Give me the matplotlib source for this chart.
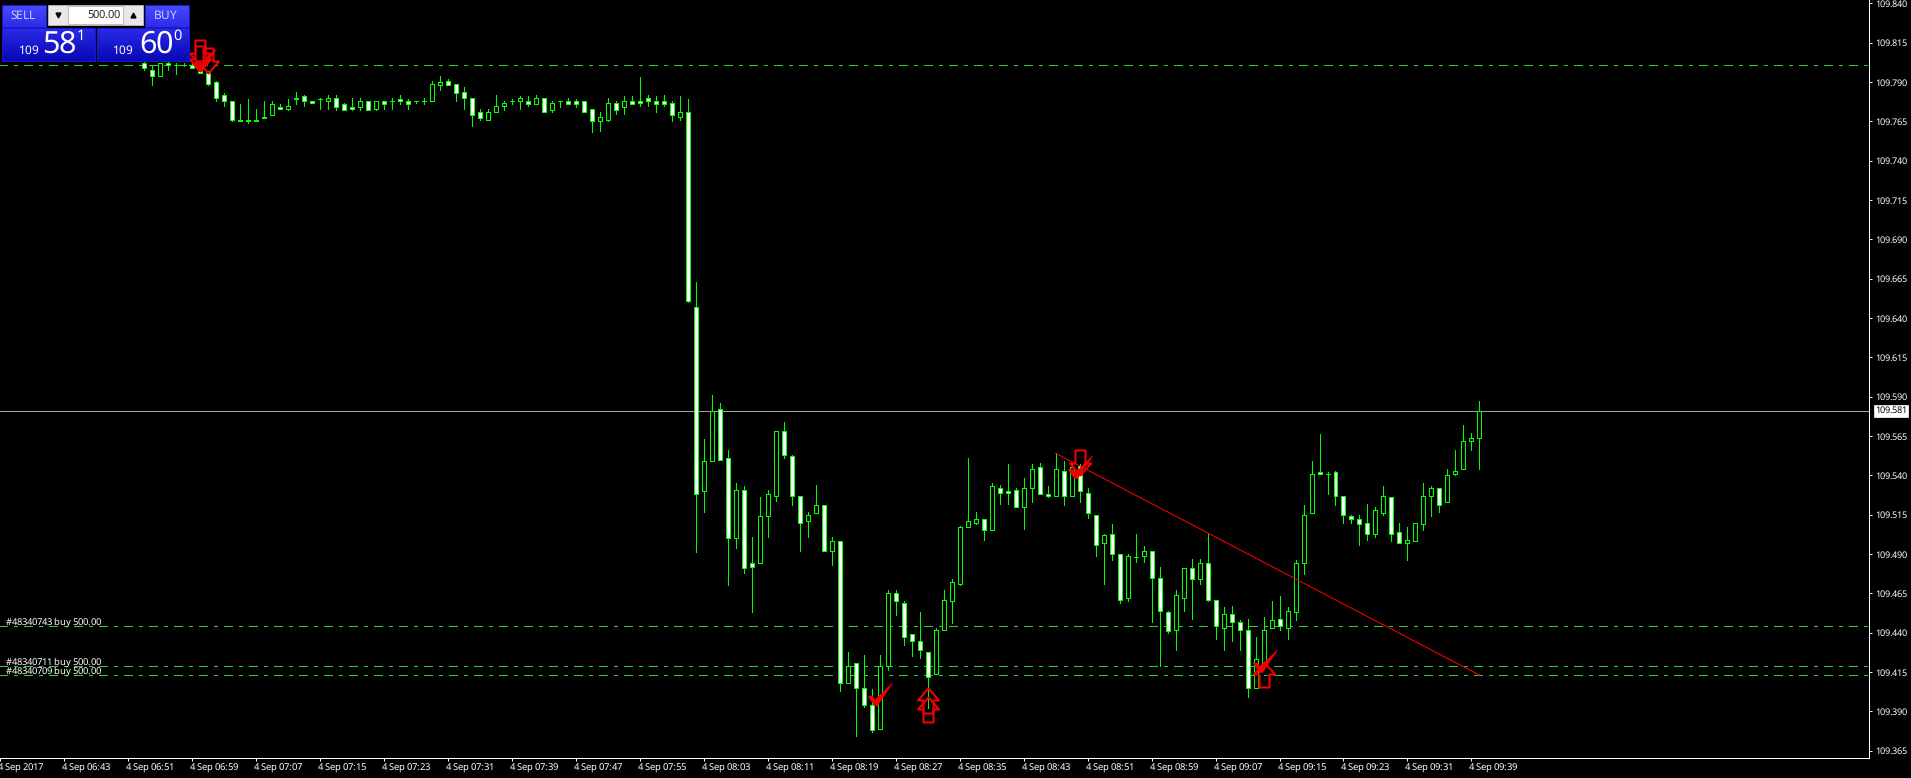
"""
USDJPY M1 chart with order lines, redrawn from a trading terminal screenshot
"""
import numpy as np
import matplotlib
matplotlib.use("Agg")
import matplotlib.pyplot as plt
from matplotlib.path import Path
from matplotlib.patches import Rectangle
from matplotlib.transforms import ScaledTranslation

plt.rcParams["font.family"] = ["Noto Sans", "DejaVu Sans"]
plt.rcParams["lines.scale_dashes"] = False
plt.rcParams["text.hinting"] = "native"
plt.rcParams["text.hinting_factor"] = 1

# candles, one per minute, first one at minute 10 after the 06:43 tick
first_candle = 10
opens = [
    109.802, 109.798, 109.794, 109.802, 109.801, 109.801, 109.801, 109.799, 109.796, 109.790,
    109.782, 109.778, 109.766, 109.766, 109.766, 109.768, 109.769, 109.774, 109.773, 109.780,
    109.781, 109.778, 109.779, 109.778, 109.780, 109.776, 109.774, 109.774, 109.778, 109.773,
    109.778, 109.778, 109.779, 109.778, 109.778, 109.778, 109.778, 109.788, 109.791, 109.789,
    109.784, 109.780, 109.771, 109.766, 109.771, 109.775, 109.778, 109.778, 109.778, 109.776,
    109.780, 109.772, 109.778, 109.778, 109.778, 109.778, 109.773, 109.765, 109.766, 109.777,
    109.774, 109.778, 109.778, 109.780, 109.778, 109.778, 109.777, 109.768, 109.771, 109.647,
    109.530, 109.549, 109.582, 109.551, 109.500, 109.531, 109.484, 109.484, 109.514, 109.527,
    109.568, 109.552, 109.527, 109.511, 109.516, 109.521, 109.492, 109.498, 109.408, 109.421,
    109.405, 109.394, 109.379, 109.419, 109.465, 109.459, 109.439, 109.435, 109.428, 109.414,
    109.442, 109.460, 109.471, 109.507, 109.510, 109.512, 109.505, 109.532, 109.530, 109.531,
    109.520, 109.532, 109.545, 109.528, 109.527, 109.543, 109.527, 109.546, 109.529, 109.515,
    109.497, 109.503, 109.490, 109.462, 109.488, 109.489, 109.492, 109.475, 109.453, 109.442,
    109.462, 109.481, 109.474, 109.484, 109.461, 109.443, 109.452, 109.447, 109.442, 109.405,
    109.420, 109.443, 109.449, 109.443, 109.453, 109.484, 109.516, 109.542, 109.541, 109.542,
    109.527, 109.514, 109.512, 109.510, 109.503, 109.516, 109.526, 109.504, 109.497, 109.498,
    109.509, 109.527, 109.532, 109.523, 109.541, 109.544, 109.562, 109.564,
]
highs = [
    109.803, 109.800, 109.802, 109.803, 109.802, 109.802, 109.802, 109.799, 109.797, 109.791,
    109.783, 109.778, 109.776, 109.779, 109.773, 109.778, 109.778, 109.776, 109.779, 109.784,
    109.782, 109.778, 109.780, 109.782, 109.782, 109.777, 109.780, 109.780, 109.778, 109.778,
    109.778, 109.780, 109.782, 109.779, 109.778, 109.780, 109.791, 109.794, 109.792, 109.789,
    109.787, 109.780, 109.773, 109.773, 109.782, 109.778, 109.779, 109.781, 109.781, 109.782,
    109.780, 109.778, 109.778, 109.780, 109.779, 109.778, 109.773, 109.771, 109.780, 109.778,
    109.781, 109.781, 109.793, 109.782, 109.781, 109.782, 109.778, 109.781, 109.779, 109.663,
    109.563, 109.591, 109.586, 109.556, 109.535, 109.533, 109.501, 109.526, 109.531, 109.568,
    109.574, 109.553, 109.527, 109.517, 109.534, 109.521, 109.501, 109.498, 109.428, 109.421,
    109.426, 109.404, 109.426, 109.467, 109.467, 109.460, 109.439, 109.453, 109.428, 109.443,
    109.467, 109.474, 109.508, 109.551, 109.517, 109.512, 109.535, 109.534, 109.547, 109.532,
    109.538, 109.547, 109.548, 109.533, 109.554, 109.549, 109.548, 109.547, 109.532, 109.515,
    109.503, 109.509, 109.490, 109.490, 109.503, 109.495, 109.492, 109.482, 109.454, 109.467,
    109.481, 109.487, 109.487, 109.503, 109.461, 109.456, 109.457, 109.448, 109.449, 109.437,
    109.450, 109.460, 109.463, 109.456, 109.486, 109.521, 109.549, 109.566, 109.542, 109.543,
    109.527, 109.515, 109.515, 109.522, 109.520, 109.533, 109.526, 109.510, 109.507, 109.510,
    109.535, 109.533, 109.532, 109.544, 109.556, 109.572, 109.567, 109.587,
]
lows = [
    109.798, 109.788, 109.794, 109.798, 109.795, 109.800, 109.799, 109.796, 109.788, 109.778,
    109.775, 109.765, 109.765, 109.764, 109.765, 109.767, 109.769, 109.773, 109.772, 109.776,
    109.775, 109.777, 109.773, 109.773, 109.772, 109.772, 109.772, 109.772, 109.772, 109.772,
    109.773, 109.773, 109.776, 109.773, 109.777, 109.776, 109.778, 109.785, 109.788, 109.778,
    109.773, 109.762, 109.766, 109.766, 109.771, 109.772, 109.776, 109.773, 109.775, 109.776,
    109.771, 109.771, 109.774, 109.776, 109.774, 109.771, 109.758, 109.759, 109.765, 109.770,
    109.770, 109.776, 109.775, 109.775, 109.771, 109.775, 109.765, 109.766, 109.650, 109.491,
    109.517, 109.549, 109.550, 109.470, 109.494, 109.478, 109.453, 109.484, 109.501, 109.524,
    109.551, 109.521, 109.492, 109.501, 109.516, 109.492, 109.483, 109.403, 109.408, 109.374,
    109.393, 109.377, 109.379, 109.416, 109.451, 109.432, 109.425, 109.424, 109.392, 109.414,
    109.442, 109.446, 109.470, 109.507, 109.509, 109.499, 109.505, 109.522, 109.522, 109.520,
    109.506, 109.523, 109.528, 109.526, 109.527, 109.521, 109.527, 109.523, 109.513, 109.489,
    109.471, 109.486, 109.459, 109.460, 109.485, 109.485, 109.447, 109.419, 109.440, 109.429,
    109.454, 109.449, 109.471, 109.460, 109.436, 109.429, 109.435, 109.429, 109.399, 109.405,
    109.420, 109.443, 109.442, 109.436, 109.448, 109.477, 109.516, 109.541, 109.528, 109.521,
    109.510, 109.510, 109.496, 109.499, 109.501, 109.515, 109.498, 109.497, 109.486, 109.498,
    109.505, 109.514, 109.517, 109.523, 109.540, 109.544, 109.556, 109.544,
]
closes = [
    109.799, 109.794, 109.802, 109.801, 109.801, 109.801, 109.799, 109.796, 109.789, 109.780,
    109.778, 109.766, 109.765, 109.765, 109.765, 109.767, 109.776, 109.773, 109.775, 109.779,
    109.778, 109.777, 109.779, 109.780, 109.774, 109.772, 109.773, 109.778, 109.772, 109.778,
    109.776, 109.778, 109.778, 109.776, 109.778, 109.778, 109.789, 109.790, 109.788, 109.783,
    109.780, 109.769, 109.767, 109.771, 109.775, 109.777, 109.778, 109.780, 109.776, 109.780,
    109.771, 109.777, 109.778, 109.776, 109.776, 109.771, 109.765, 109.768, 109.777, 109.772,
    109.778, 109.776, 109.777, 109.778, 109.776, 109.776, 109.769, 109.771, 109.651, 109.528,
    109.549, 109.581, 109.550, 109.500, 109.531, 109.481, 109.482, 109.514, 109.528, 109.568,
    109.553, 109.527, 109.510, 109.515, 109.521, 109.492, 109.498, 109.408, 109.419, 109.405,
    109.394, 109.378, 109.419, 109.465, 109.460, 109.437, 109.435, 109.429, 109.412, 109.442,
    109.461, 109.472, 109.507, 109.511, 109.512, 109.505, 109.533, 109.529, 109.529, 109.520,
    109.532, 109.544, 109.528, 109.527, 109.544, 109.527, 109.545, 109.530, 109.516, 109.496,
    109.502, 109.490, 109.461, 109.489, 109.488, 109.492, 109.475, 109.454, 109.441, 109.464,
    109.481, 109.474, 109.484, 109.461, 109.444, 109.452, 109.447, 109.442, 109.405, 109.423,
    109.442, 109.448, 109.444, 109.454, 109.484, 109.515, 109.541, 109.541, 109.541, 109.527,
    109.515, 109.512, 109.509, 109.503, 109.518, 109.527, 109.503, 109.497, 109.499, 109.510,
    109.527, 109.532, 109.521, 109.540, 109.543, 109.562, 109.564, 109.581,
]

# order lines and current price
order_prices = [109.801, 109.444, 109.419, 109.413]
order_labels = ["#48340743 buy 500.00", "#48340711 buy 500.00", "#48340709 buy 500.00"]
order_label_prices = [109.444, 109.419, 109.413]
last_price = 109.581

# trend line
trend_x = [124, 177]
trend_y = [109.554, 109.413]

# signal arrows and check marks (minute, price)
up_x = [108, 108, 150]
up_y = [109.405, 109.399, 109.4215]
down_x = [17, 17, 18, 127]
down_y = [109.801, 109.797, 109.796, 109.5405]
check_x = [16.7, 101.25, 126.25, 149.4]
check_y = [109.797, 109.394, 109.538, 109.415]

# axis ticks
y_ticks = [109.365, 109.390, 109.415, 109.440, 109.465, 109.490, 109.515, 109.540, 109.565,
           109.590, 109.615, 109.640, 109.665, 109.690, 109.715, 109.740, 109.765, 109.790,
           109.815, 109.840]
x_ticks = list(range(-8, 177, 8))
x_labels = ["4 Sep 2017", "4 Sep 06:43", "4 Sep 06:51", "4 Sep 06:59", "4 Sep 07:07", "4 Sep 07:15",
            "4 Sep 07:23", "4 Sep 07:31", "4 Sep 07:39", "4 Sep 07:47", "4 Sep 07:55", "4 Sep 08:03",
            "4 Sep 08:11", "4 Sep 08:19", "4 Sep 08:27", "4 Sep 08:35", "4 Sep 08:43", "4 Sep 08:51",
            "4 Sep 08:59", "4 Sep 09:07", "4 Sep 09:15", "4 Sep 09:23", "4 Sep 09:31", "4 Sep 09:39"]

LIME = "#00ff00"
ORDER_GREEN = "#32cd32"
PX = 0.72  # one pixel in points at dpi 100
W, H = 1911, 778
plot_right, plot_bottom = 1869, 758


def arrow_marker(sign):
    """Arrow outline with the tip at the origin, sign=1 points up."""
    pts = [(0, 0), (10.5, -12), (5, -12), (5, -25), (-5, -25), (-5, -12), (-10.5, -12), (0, 0)]
    return Path([(x, sign * y) for x, y in pts], closed=True)


check_marker = Path([(0, 0), (-6, 9), (-2, 9.5), (0.5, 5.5), (18, 22.5), (3, 0), (0, 0)], closed=True)

fig = plt.figure(figsize=(W / 100, H / 100), dpi=100, facecolor="black")
ax = fig.add_axes([0, (H - plot_bottom) / H, plot_right / W, plot_bottom / H], facecolor="black")

minutes = np.arange(first_candle, first_candle + len(opens))
opens, highs, lows, closes = map(np.asarray, (opens, highs, lows, closes))

# order lines
dash = (PX, (9 * PX, 6 * PX, 3 * PX, 6 * PX))
for price in order_prices:
    ax.axhline(price, color=ORDER_GREEN, lw=PX, linestyle=(dash[0], dash[1]), antialiased=False, zorder=1)
ax.axhline(last_price, color="#a0a0a0", lw=PX, antialiased=False, zorder=1)

# candles
ax.vlines(minutes, lows, highs, color=LIME, lw=PX, antialiaseds=False, zorder=2)
bottoms = np.minimum(opens, closes)
heights = np.abs(closes - opens)
fills = ["white" if c < o else "black" for o, c in zip(opens, closes)]
ax.bar(minutes, heights, bottom=bottoms, width=0.5, color=fills, edgecolor=LIME,
       linewidth=PX, antialiased=False, zorder=3)

ax.plot(trend_x, trend_y, color="#ff0000", lw=PX, zorder=4)

ax.plot(check_x, check_y, ls="none", marker=check_marker, ms=32.4, mfc="#f00000", mec="#f00000", mew=0.5, zorder=5)
ax.plot(up_x, up_y, ls="none", marker=arrow_marker(1), ms=36, mfc="none", mec="#f00000", mew=1.5, zorder=5)
ax.plot(down_x, down_y, ls="none", marker=arrow_marker(-1), ms=36, mfc="none", mec="#f00000", mew=1.5, zorder=5)

for text, price in zip(order_labels, order_label_prices):
    ax.annotate(text, xy=(0, price), xycoords=("axes fraction", "data"), xytext=(5.5, -1),
                textcoords="offset pixels", color="white", fontsize=6.8, va="bottom", zorder=6)

ax.set_xlim((0 - 63.3) / 8, (plot_right - 63.3) / 8)
top_price = 109.590 + 396.7 * 0.0006357
bottom_price = 109.590 - (plot_bottom - 396.7) * 0.0006357
ax.set_ylim(bottom_price, top_price)

ax.yaxis.tick_right()
ax.set_yticks(y_ticks)
ax.set_yticklabels(["%.3f" % t for t in y_ticks])
ax.set_xticks(x_ticks)
ax.set_xticklabels(x_labels, ha="left")
ax.tick_params(axis="y", colors="white", labelsize=6.6, length=2.5, width=PX, pad=2)
ax.tick_params(axis="x", colors="white", labelsize=6.85, length=2.5, width=PX, pad=1.5)
# the terminal starts its time labels just left of the tick
shift = ScaledTranslation(-2 / 100, 0, fig.dpi_scale_trans)
for label in ax.get_xticklabels():
    label.set_transform(label.get_transform() + shift)
for name in ("top", "left"):
    ax.spines[name].set_visible(False)
for name in ("right", "bottom"):
    ax.spines[name].set_color("white")
    ax.spines[name].set_linewidth(PX)

# current price box on the price scale
ax.annotate("%.3f" % last_price, xy=(1, last_price), xycoords=("axes fraction", "data"), xytext=(6, 0),
            textcoords="offset pixels", color="black", fontsize=6.6, va="center", ha="left",
            annotation_clip=False, zorder=7,
            bbox=dict(boxstyle="square,pad=0.12", fc="white", ec="white", lw=0.5))

# one click trading panel, drawn in screen pixels
panel = fig.add_axes([0, 0, 1, 1], facecolor="none")
panel.axis("off")


def blue_block(x0, x1, y0, y1, top, bottom):
    shades = np.linspace(0, 1, 32)[:, None, None]
    img = (1 - shades) * np.array(matplotlib.colors.to_rgb(top)) + shades * np.array(matplotlib.colors.to_rgb(bottom))
    panel.imshow(img, extent=(x0, x1, y1, y0), aspect="auto", interpolation="bilinear", zorder=2)
    panel.add_patch(Rectangle((x0, y0), x1 - x0, y1 - y0, fc="none", ec="#1818c8", lw=PX, zorder=3))


panel.add_patch(Rectangle((0, 0), 190, 62, fc="black", ec="none", zorder=1))
blue_block(2, 46, 5, 27, "#4a4aff", "#2c2ce8")
blue_block(145, 189, 5, 27, "#4a4aff", "#2c2ce8")
blue_block(2, 95, 28, 61, "#2a2ae8", "#0808b4")
blue_block(97, 189, 28, 61, "#2a2ae8", "#0808b4")
panel.plot([6, 42], [27, 27], color="#9090ff", lw=PX)
panel.plot([149, 185], [27, 27], color="#9090ff", lw=PX)

# lot spinner
panel.add_patch(Rectangle((48, 5), 95, 20, fc="#e8e8e8", ec="#b0b0b0", lw=PX, zorder=2))
panel.add_patch(Rectangle((68, 6), 55, 18, fc="white", ec="#c0c0c0", lw=PX, zorder=3))
panel.plot([57.5], [14.5], marker="v", ms=3.5, color="black", zorder=4)
panel.plot([132.5], [14.5], marker="^", ms=3.5, color="black", zorder=4)

panel.text(23, 15.5, "SELL", color="#c8ccff", fontsize=8.5, ha="center", va="center", zorder=5)
panel.text(166, 15.5, "BUY", color="#c8ccff", fontsize=8.5, ha="center", va="center", zorder=5)
panel.text(120, 15, "500.00", color="#302818", fontsize=8, ha="right", va="center", zorder=5)
panel.text(29, 51, "109", color="white", fontsize=8.5, ha="center", va="center", zorder=5)
panel.text(59, 45, "58", color="white", fontsize=22, ha="center", va="center", zorder=5)
panel.text(81, 36, "1", color="white", fontsize=10.5, ha="center", va="center", zorder=5)
panel.text(123, 51, "109", color="white", fontsize=8.5, ha="center", va="center", zorder=5)
panel.text(156, 45, "60", color="white", fontsize=22, ha="center", va="center", zorder=5)
panel.text(177, 36, "0", color="white", fontsize=10.5, ha="center", va="center", zorder=5)
panel.set_xlim(0, W)
panel.set_ylim(H, 0)

fig.savefig("out.png", dpi=100, facecolor="black")
